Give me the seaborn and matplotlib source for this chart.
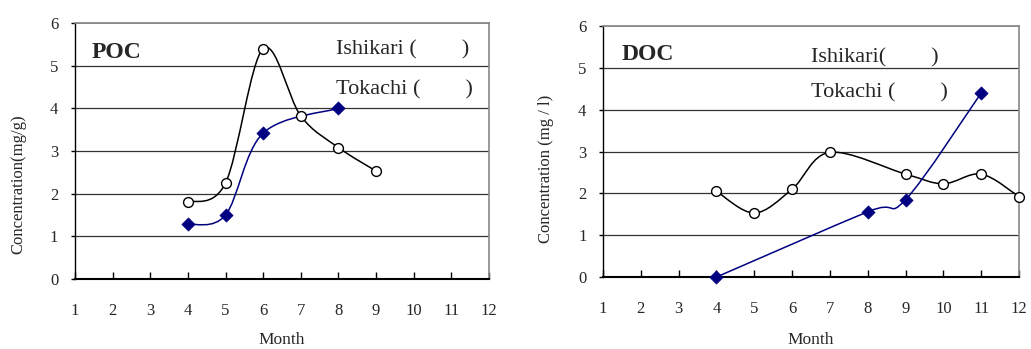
import numpy as np
import pandas as pd
import matplotlib
matplotlib.use("Agg")
import matplotlib.pyplot as plt
from matplotlib.path import Path
from matplotlib.patches import PathPatch
import seaborn as sns

# ---- data ----
months = list(range(1, 13))
poc_ishikari_x = [4, 5, 6, 7, 8, 9]
poc_ishikari_y = [1.80, 2.25, 5.40, 3.82, 3.08, 2.53]
poc_tokachi_x = [4, 5, 6, 8]
poc_tokachi_y = [1.28, 1.50, 3.42, 4.00]
doc_ishikari_x = [4, 5, 6, 7, 9, 10, 11, 12]
doc_ishikari_y = [2.05, 1.53, 2.10, 2.98, 2.46, 2.23, 2.46, 1.92]
doc_tokachi_x = [4, 8, 9, 11]
doc_tokachi_y = [0.00, 1.56, 1.85, 4.40]
yticks = [0, 1, 2, 3, 4, 5, 6]

sns.set_theme(style="white")
plt.rcParams['font.family'] = ['Liberation Serif', 'DejaVu Serif']

NAVY = "#000080"


def smooth_path(ax, xs, ys, color):
    """Excel-style smoothed line as a Bezier path in data coordinates."""
    pts = np.column_stack([xs, ys]).astype(float)
    n = len(pts)
    verts = [pts[0]]
    codes = [Path.MOVETO]
    for i in range(n - 1):
        p0 = pts[i - 1] if i > 0 else pts[i]
        p1 = pts[i]
        p2 = pts[i + 1]
        p3 = pts[i + 2] if i + 2 < n else pts[i + 1]
        c1 = p1 + (p2 - p0) / 6.0
        c2 = p2 - (p3 - p1) / 6.0
        verts += [c1, c2, p2]
        codes += [Path.CURVE4] * 3
    patch = PathPatch(Path(verts, codes), facecolor="none", edgecolor=color,
                      lw=1.1, zorder=3)
    ax.add_patch(patch)


def draw_panel(ax, ix, iy, tx, ty, label, ylabel, ishi_txt, toka_txt,
               lab_pos, txt_x, ishi_y, toka_y, ylab_y, month_y):
    smooth_path(ax, ix, iy, "black")
    smooth_path(ax, tx, ty, NAVY)
    sns.scatterplot(x=ix, y=iy, ax=ax, marker="o", s=50, facecolor="white",
                    edgecolor="black", linewidth=1.0, zorder=5, clip_on=False)
    sns.scatterplot(x=tx, y=ty, ax=ax, marker="D", s=45, color=NAVY,
                    edgecolor=NAVY, linewidth=0.5, zorder=6, clip_on=False)
    ax.set_xlim(1, 12)
    ax.set_ylim(0, 6)
    ax.set_xticks(months)
    ax.set_yticks(yticks)
    ax.tick_params(axis="x", direction="in", length=5, width=1, pad=17,
                   labelsize=12, color="black", bottom=True)
    ax.tick_params(axis="y", direction="out", length=3, width=1, pad=9,
                   labelsize=12, color="black", left=True)
    for y in yticks[1:-1]:
        ax.axhline(y, color="#333333", lw=0.9, zorder=1)
    ax.axhline(6, color="#888888", lw=1.2, zorder=1)
    ax.spines["left"].set_color("black")
    ax.spines["bottom"].set_color("black")
    ax.spines["bottom"].set_linewidth(1.5)
    ax.spines["left"].set_linewidth(1.0)
    ax.spines["top"].set_color("#888888")
    ax.spines["right"].set_color("#888888")
    ax.spines["right"].set_linewidth(1.2)
    ax.set_xlabel("Month", fontsize=12.5)
    ax.set_ylabel(ylabel, fontsize=12)
    ax.xaxis.set_label_coords(0.5, month_y)
    ax.yaxis.set_label_coords(-0.117, ylab_y)
    ax.text(lab_pos[0], lab_pos[1], label, fontsize=17, fontweight="bold",
            va="center", zorder=4)
    ax.text(txt_x, ishi_y, ishi_txt, fontsize=16, va="center", zorder=4)
    ax.text(txt_x, toka_y, toka_txt, fontsize=16, va="center", zorder=4)
    ax.set_facecolor("white")


fig = plt.figure(figsize=(10.31, 3.49), dpi=100)
ax1 = fig.add_axes([0.0727, 0.2006, 0.4016, 0.7335])
ax2 = fig.add_axes([0.5849, 0.2063, 0.4035, 0.7192])

draw_panel(ax1, poc_ishikari_x, poc_ishikari_y, poc_tokachi_x, poc_tokachi_y,
           "POC", "Concentration(mg/g)", "Ishikari (        )", "Tokachi (        )",
           (1.45, 5.32), 7.94, 5.37, 4.43, 0.37, -0.207)
draw_panel(ax2, doc_ishikari_x, doc_ishikari_y, doc_tokachi_x, doc_tokachi_y,
           "DOC", "Concentration (mg / l)", "Ishikari(        )", "Tokachi (        )",
           (1.48, 5.31), 6.5, 5.24, 4.40, 0.43, -0.219)

fig.savefig("out.png", dpi=100, facecolor="white")
